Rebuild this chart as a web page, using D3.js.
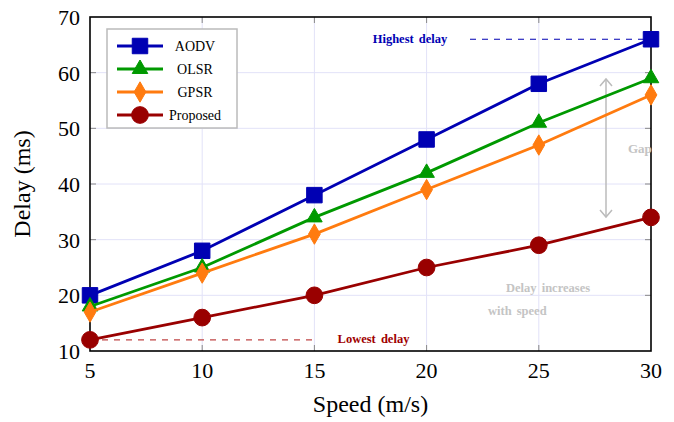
<!DOCTYPE html>
<html>
<head>
<meta charset="utf-8">
<script src="https://cdn.jsdelivr.net/npm/d3@7"></script>
<style>
  body { margin: 0; background: #fff; }
  text { font-family: "Liberation Serif", "Times New Roman", serif; }
</style>
</head>
<body>
<script>
// data
const speeds = [5, 10, 15, 20, 25, 30];
const aodv = [20, 28, 38, 48, 58, 66];
const olsr = [18, 25, 34, 42, 51, 59];
const gpsr = [17, 24, 31, 39, 47, 56];
const proposed = [12, 16, 20, 25, 29, 34];
const seriesNames = ["AODV", "OLSR", "GPSR", "Proposed"];
const yTicks = [10, 20, 30, 40, 50, 60, 70];

const series = [
  { name: seriesNames[0], values: aodv, color: "#0000b3", marker: d3.symbolSquare, size: 240 },
  { name: seriesNames[1], values: olsr, color: "#009900", marker: d3.symbolTriangle, size: 105 },
  { name: seriesNames[2], values: gpsr, color: "#ff7b0f", marker: d3.symbolDiamond, size: 120 },
  { name: seriesNames[3], values: proposed, color: "#990000", marker: d3.symbolCircle, size: 220 }
];

const width = 674, height = 422;
const m = { left: 90, right: 23, top: 17, bottom: 71 };

const svg = d3.select("body").append("svg")
  .attr("width", width)
  .attr("height", height);

const x = d3.scaleLinear().domain([5, 30]).range([m.left, width - m.right]);
const y = d3.scaleLinear().domain([10, 70]).range([height - m.bottom, m.top]);

// grid
svg.append("g").selectAll("line").data(speeds.slice(1, -1)).join("line")
  .attr("x1", d => x(d)).attr("x2", d => x(d))
  .attr("y1", y(10)).attr("y2", y(70))
  .attr("stroke", "#e2e2f8").attr("stroke-width", 1);
svg.append("g").selectAll("line").data(yTicks.slice(1, -1)).join("line")
  .attr("x1", x(5)).attr("x2", x(30))
  .attr("y1", d => y(d)).attr("y2", d => y(d))
  .attr("stroke", "#e2e2f8").attr("stroke-width", 1);

// inner ticks
const tickLen = 6;
const tg = svg.append("g").attr("stroke", "#888").attr("stroke-width", 1);
speeds.slice(1, -1).forEach(s => {
  tg.append("line").attr("x1", x(s)).attr("x2", x(s)).attr("y1", y(10)).attr("y2", y(10) - tickLen);
  tg.append("line").attr("x1", x(s)).attr("x2", x(s)).attr("y1", y(70)).attr("y2", y(70) + tickLen);
});
yTicks.slice(1, -1).forEach(t => {
  tg.append("line").attr("x1", x(5)).attr("x2", x(5) + tickLen).attr("y1", y(t)).attr("y2", y(t));
  tg.append("line").attr("x1", x(30)).attr("x2", x(30) - tickLen).attr("y1", y(t)).attr("y2", y(t));
});

// frame
svg.append("rect")
  .attr("x", x(5)).attr("y", y(70))
  .attr("width", x(30) - x(5)).attr("height", y(10) - y(70))
  .attr("fill", "none").attr("stroke", "#000").attr("stroke-width", 1.6);

// tick labels
svg.append("g").selectAll("text").data(speeds).join("text")
  .attr("x", d => x(d)).attr("y", y(10) + 27)
  .attr("text-anchor", "middle").attr("font-size", 22)
  .text(d => d);
svg.append("g").selectAll("text").data(yTicks).join("text")
  .attr("x", x(5) - 10).attr("y", d => y(d) + 8)
  .attr("text-anchor", "end").attr("font-size", 22)
  .text(d => d);

// axis titles
svg.append("text")
  .attr("x", (x(5) + x(30)) / 2).attr("y", 412)
  .attr("text-anchor", "middle").attr("font-size", 24)
  .text("Speed (m/s)");
svg.append("text")
  .attr("transform", `translate(30,${(y(10) + y(70)) / 2}) rotate(-90)`)
  .attr("text-anchor", "middle").attr("font-size", 24)
  .text("Delay (ms)");

// annotations
svg.append("line")
  .attr("x1", 470).attr("x2", x(30))
  .attr("y1", y(66)).attr("y2", y(66))
  .attr("stroke", "#0000b3").attr("stroke-width", 1.2).attr("stroke-dasharray", "6,6");
svg.append("text")
  .attr("x", 410).attr("y", y(66) + 4)
  .attr("text-anchor", "middle").attr("font-size", 12.5).attr("font-weight", "bold")
  .attr("word-spacing", 2)
  .attr("fill", "#0000b3").text("Highest delay");

svg.append("line")
  .attr("x1", x(5)).attr("x2", x(15))
  .attr("y1", y(12)).attr("y2", y(12))
  .attr("stroke", "#c04545").attr("stroke-width", 1.2).attr("stroke-dasharray", "6,6");
svg.append("text")
  .attr("x", 373.5).attr("y", y(12) + 3.5)
  .attr("text-anchor", "middle").attr("font-size", 12.5).attr("font-weight", "bold")
  .attr("word-spacing", 2)
  .attr("fill", "#a00000").text("Lowest delay");

// gap arrow
const ax = 606, ay1 = 79, ay2 = 217;
const ag = svg.append("g").attr("stroke", "#bbb").attr("stroke-width", 1.5).attr("fill", "none");
ag.append("line").attr("x1", ax).attr("x2", ax).attr("y1", ay1).attr("y2", ay2);
ag.append("path").attr("d", `M${ax - 6},${ay1 + 7} L${ax},${ay1} L${ax + 6},${ay1 + 7}`);
ag.append("path").attr("d", `M${ax - 6},${ay2 - 7} L${ax},${ay2} L${ax + 6},${ay2 - 7}`);
svg.append("text")
  .attr("x", 628).attr("y", 153)
  .attr("font-size", 13).attr("font-weight", "bold")
  .attr("fill", "#c4c4c4").text("Gap");

svg.append("text")
  .attr("x", 506).attr("y", 292)
  .attr("font-size", 12.5).attr("font-weight", "bold").attr("word-spacing", 2)
  .attr("fill", "#c4c4c4").text("Delay increases");
svg.append("text")
  .attr("x", 488).attr("y", 315)
  .attr("font-size", 12.5).attr("font-weight", "bold").attr("word-spacing", 2)
  .attr("fill", "#c4c4c4").text("with speed");

// lines and markers
const line = d3.line().x((d, i) => x(speeds[i])).y(d => y(d));
const sg = svg.append("g").selectAll("g").data(series).join("g");
sg.append("path")
  .attr("d", d => line(d.values))
  .attr("fill", "none").attr("stroke", d => d.color).attr("stroke-width", 2.8);
sg.each(function (s) {
  d3.select(this).selectAll("path.mk").data(s.values).join("path")
    .attr("class", "mk")
    .attr("transform", (v, i) => `translate(${x(speeds[i])},${y(v)})`)
    .attr("d", d3.symbol().type(s.marker).size(s.size))
    .attr("fill", s.color)
    .attr("stroke", s.color).attr("stroke-width", 1);
});

// legend
const lg = svg.append("g").attr("transform", "translate(107,29)");
lg.append("rect")
  .attr("width", 130).attr("height", 99)
  .attr("fill", "#fff").attr("stroke", "#bbb").attr("stroke-width", 1.5);
series.forEach((s, i) => {
  const ly = 17 + i * 23;
  lg.append("line")
    .attr("x1", 10).attr("x2", 56).attr("y1", ly).attr("y2", ly)
    .attr("stroke", s.color).attr("stroke-width", 2.8);
  lg.append("path")
    .attr("transform", `translate(33,${ly})`)
    .attr("d", d3.symbol().type(s.marker).size(s.size))
    .attr("fill", s.color).attr("stroke", s.color);
  lg.append("text")
    .attr("x", 88).attr("y", ly + 5)
    .attr("text-anchor", "middle").attr("font-size", 14)
    .text(s.name);
});
</script>
</body>
</html>
